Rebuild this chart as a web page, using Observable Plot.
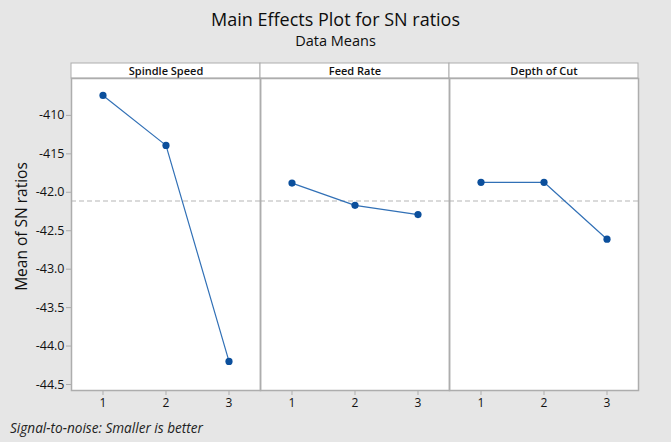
<!DOCTYPE html>
<html>
<head>
<meta charset="utf-8">
<script src="https://cdn.jsdelivr.net/npm/d3@7"></script>
<script src="https://cdn.jsdelivr.net/npm/@observablehq/plot@0.6"></script>
<style>
  html, body { margin: 0; padding: 0; background: #e6e6e6; }
  body { width: 671px; height: 442px; overflow: hidden; font-family: "Open Sans", "Noto Sans", sans-serif; color: #111; }
  #head { height: 55px; text-align: center; }
  #title { padding-top: 9px; font-size: 18px; line-height: 20px; color: #0d0d0d; }
  #subtitle { margin-top: 3px; font-size: 14.5px; line-height: 17px; color: #0d0d0d; }
  #chart svg { display: block; background: transparent; }
  #caption { font-style: italic; font-size: 13.6px; padding-left: 10px; line-height: 18px; margin-top: 7px; color: #222; }
</style>
</head>
<body>
<div id="head">
  <div id="title">Main Effects Plot for SN ratios</div>
  <div id="subtitle">Data Means</div>
</div>
<div id="chart"></div>
<div id="caption">Signal-to-noise: Smaller is better</div>
<script>
// Factors and their levels
const factors = ["Spindle Speed", "Feed Rate", "Depth of Cut"];
const levels = [1, 2, 3];

// Mean SN ratio at each level
const spindleSpeed = [-40.74, -41.39, -44.20];
const feedRate = [-41.88, -42.17, -42.29];
const depthOfCut = [-41.87, -41.87, -42.61];

// Y axis ticks and their labels
const yTicks = [-41.0, -41.5, -42.0, -42.5, -43.0, -43.5, -44.0, -44.5];
const yTickLabels = ["-410", "-415", "-42.0", "-42.5", "-43.0", "-43.5", "-44.0", "-44.5"];

const seriesByFactor = [spindleSpeed, feedRate, depthOfCut];
const rows = factors.flatMap((f, i) => levels.map((l, j) => ({factor: f, level: l, sn: seriesByFactor[i][j]})));
const grandMean = d3.mean(rows, d => d.sn);

const blue = "#0b4f9c";
const lineBlue = "#3170b6";
const border = "#adadad";

// Header strip above each panel
const strip = (index, scales, values, dims) => {
  const x0 = scales.x(0.5), x1 = scales.x(3.5);
  return d3.create("svg:rect")
    .attr("x", x0).attr("y", dims.marginTop - 15)
    .attr("width", x1 - x0).attr("height", 15)
    .attr("fill", "white").attr("stroke", border).attr("stroke-width", 1)
    .node();
};

const chart = Plot.plot({
  width: 671,
  height: 357,
  marginTop: 23,
  marginBottom: 22,
  marginLeft: 70,
  marginRight: 33,
  style: {fontFamily: "'Open Sans', 'Noto Sans', sans-serif", background: "transparent", color: "#111"},
  fx: {domain: factors, padding: 0, axis: null},
  x: {domain: [0.5, 3.5]},
  y: {domain: [-44.578, -40.52]},
  marks: [
    Plot.frame({fill: "white"}),
    strip,
    Plot.text(factors, {fx: d => d, text: d => d, frameAnchor: "top", lineAnchor: "middle", dy: -7.5, fontSize: 11, fontWeight: 600, fill: "#111"}),
    Plot.ruleY([grandMean], {stroke: "#b5b5b5", strokeWidth: 1, strokeDasharray: "5,3"}),
    Plot.line(rows, {fx: "factor", x: "level", y: "sn", stroke: lineBlue, strokeWidth: 1.2}),
    Plot.dot(rows, {fx: "factor", x: "level", y: "sn", r: 3.6, fill: blue, stroke: "none"}),
    Plot.frame({stroke: border, strokeWidth: 1.5}),
    Plot.axisX({ticks: levels, tickFormat: d => String(d), tickSize: 5, tickPadding: 3, fontSize: 12, stroke: border, fill: "#111", label: null}),
    Plot.axisY({ticks: yTicks, tickFormat: d => yTickLabels[yTicks.indexOf(d)], tickSize: 5, tickPadding: 2, fontSize: 12.5, stroke: border, fill: "#111", label: null}),
    Plot.text(["Mean of SN ratios"], {fx: [factors[0]], text: d => d, frameAnchor: "left", textAnchor: "middle", dx: -49, dy: -8, rotate: -90, fontSize: 15.5, fill: "#111"})
  ]
});
document.getElementById("chart").appendChild(chart);
</script>
</body>
</html>
